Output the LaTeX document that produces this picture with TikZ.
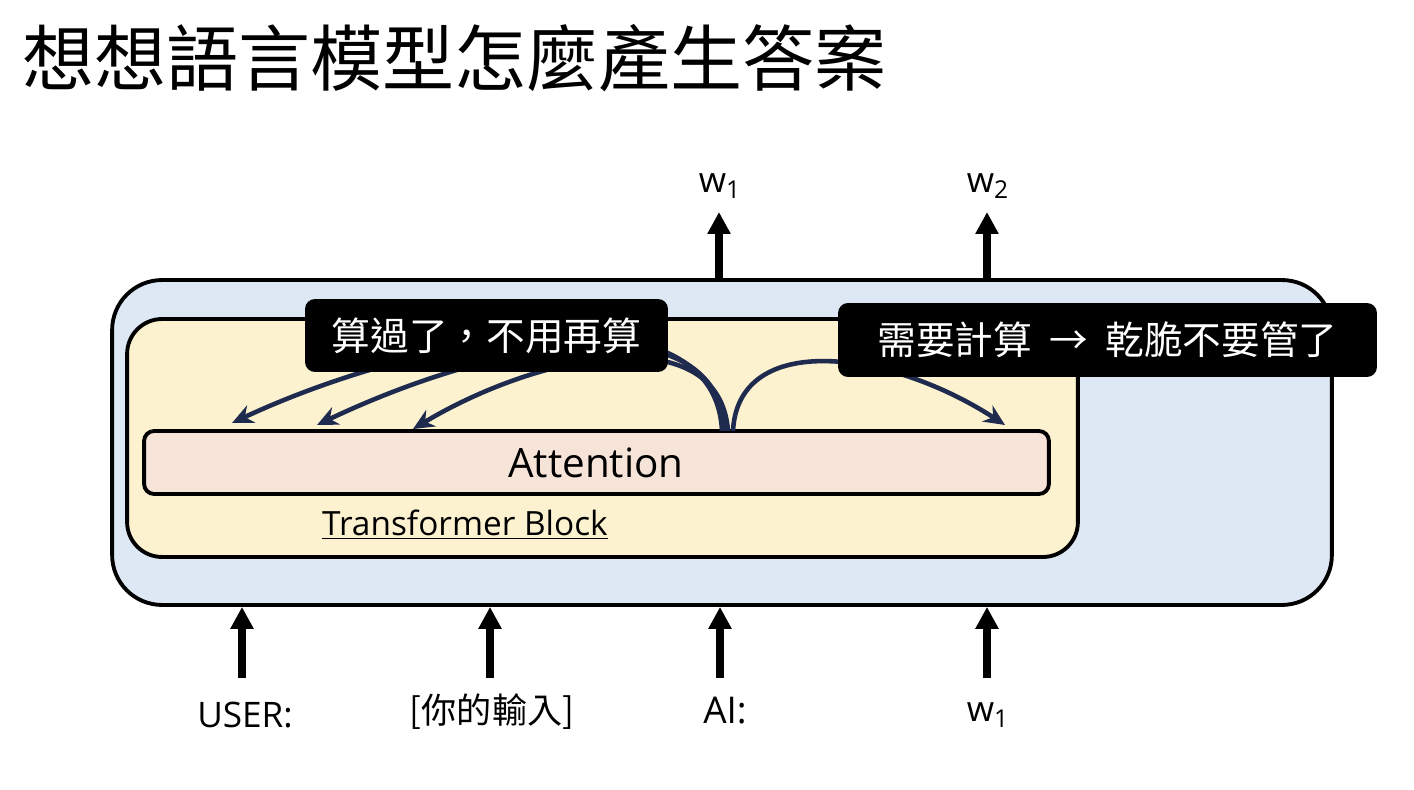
\documentclass[tikz,border=0pt]{standalone}
\usepackage{fontspec}
\setmainfont{Open Sans}
\newfontfamily\cjk{Noto Sans CJK TC}
\usetikzlibrary{arrows.meta}
\definecolor{outerfill}{HTML}{DEE8F4}
\definecolor{innerfill}{HTML}{FCF2CF}
\definecolor{attfill}{HTML}{F6E4D8}
\definecolor{navy}{HTML}{1F2A4F}
\tikzset{
  boxstyle/.style={draw=black, line width=2.2pt, rectangle, inner sep=0pt},
  callout/.style={fill=black, rounded corners=0.2cm, text=white, inner sep=0pt,
    font=\cjk\fontsize{22}{26}\selectfont},
  uparrow/.style={line width=4.2pt, -{Triangle[length=0.44cm,width=0.44cm]}},
  curvearrow/.style={navy, line width=2.6pt, -{Stealth[length=0.42cm,width=0.38cm]}},
  lbl/.style={inner sep=0pt, font=\fontsize{20}{24}\selectfont},
}
\begin{document}
\begin{tikzpicture}[x=0.02cm,y=-0.02cm]
\useasboundingbox (0,0) rectangle (1414,790);
\fill[white] (0,0) rectangle (1414,790);

% title
\node[anchor=west, inner sep=0pt, font=\cjk\fontsize{41}{48}\selectfont] (title) at (22,58) {想想語言模型怎麼產生答案};

% boxes
\node[boxstyle, fill=outerfill, rounded corners=1cm, minimum width=24.4cm, minimum height=6.5cm] (outer) at (722,442.5) {};
\node[boxstyle, fill=innerfill, rounded corners=0.7cm, minimum width=19.02cm, minimum height=4.76cm] (inner) at (602.5,438) {};
\node[boxstyle, fill=attfill, rounded corners=0.2cm, minimum width=18.1cm, minimum height=1.26cm] (att) at (596.5,462.5) {};
\node[inner sep=0pt, font=\fontsize{23}{28}\selectfont] (atttext) at (596,463) {Attention};
\node[inner sep=0pt, font=\fontsize{19}{23}\selectfont] (tb) at (465,525) {\underline{Transformer Block}};

% curve coordinates
\coordinate (s1) at (722,431);
\coordinate (s2) at (725,431);
\coordinate (s3) at (728,431);
\coordinate (s4) at (733,431);
\coordinate (e1) at (232,423);
\coordinate (e2) at (317,425);
\coordinate (e3) at (413,429);
\coordinate (e4) at (1005,425);

\draw[curvearrow] (s1) .. controls (715,280) and (420,335) .. (e1);
\draw[curvearrow] (s2) .. controls (718,300) and (500,338) .. (e2);
\draw[curvearrow] (s3) .. controls (720,320) and (545,350) .. (e3);
\draw[curvearrow] (s4) .. controls (738,330) and (890,350) .. (e4);

% callouts
\node[callout, minimum width=7.26cm, minimum height=1.46cm] (c1) at (486.5,335.5) {算過了，不用再算};
\node[callout, minimum width=10.78cm, minimum height=1.48cm] (c2) at (1107.5,340) {需要計算\hspace{0.45em}→\hspace{0.45em}乾脆不要管了};

% input arrows
\coordinate (in1) at (242,678);
\coordinate (in2) at (490,678);
\coordinate (in3) at (720,678);
\coordinate (in4) at (987,678);
\draw[uparrow] (in1) -- (in1 |- outer.south);
\draw[uparrow] (in2) -- (in2 |- outer.south);
\draw[uparrow] (in3) -- (in3 |- outer.south);
\draw[uparrow] (in4) -- (in4 |- outer.south);

% output arrows
\coordinate (out1) at (719,212);
\coordinate (out2) at (987,212);
\draw[uparrow] (out1 |- outer.north) -- (out1);
\draw[uparrow] (out2 |- outer.north) -- (out2);

% labels
\node[lbl] (l1) at (245,715) {USER:};
\node[lbl, font=\cjk\fontsize{20}{24}\selectfont] (l2) at (492,712) {[你的輸入]};
\node[lbl, font=\fontsize{21}{25}\selectfont] (l3) at (725,711) {AI:};
\node[lbl] (l4) at (988,715) {w\textsubscript{1}};
\node[lbl] (t1) at (720,186) {w\textsubscript{1}};
\node[lbl] (t2) at (988,186) {w\textsubscript{2}};
\end{tikzpicture}
\end{document}
